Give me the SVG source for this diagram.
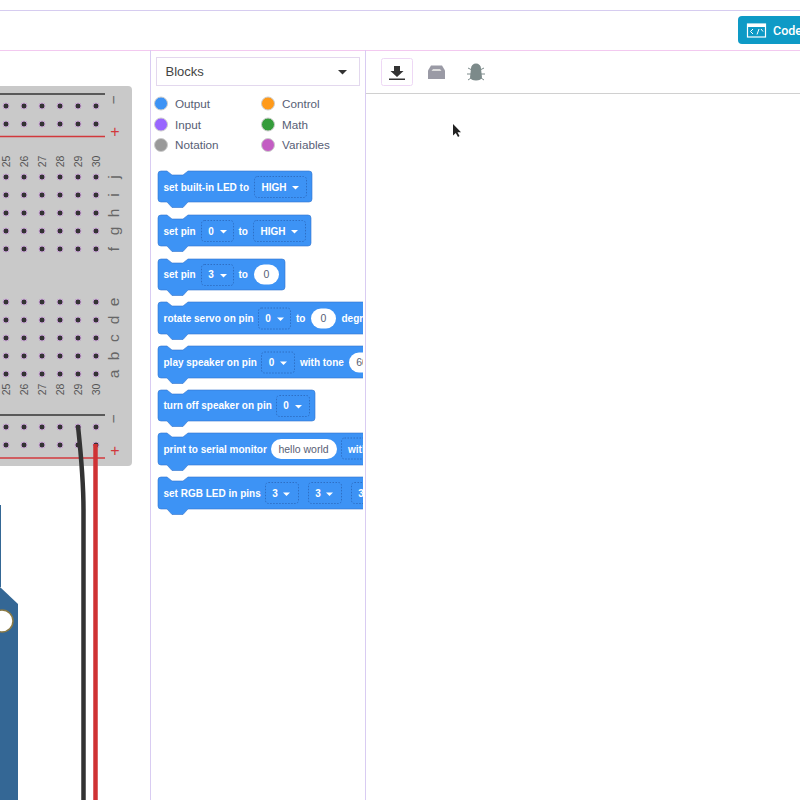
<svg xmlns="http://www.w3.org/2000/svg" width="800" height="800" viewBox="0 0 800 800">
<style>
text{font-family:"Liberation Sans",Arial,sans-serif}
.lbl{font-size:11.7px;fill:#575e75}
.bt{font-size:10px;font-weight:700;fill:#fff}
.blk{fill:#3d93f5;stroke:#3373cc;stroke-width:.6}
.dd{fill:#3d93f5;stroke:#2d6bc0;stroke-width:.9;stroke-dasharray:1.5 1.5}
.val{font-size:10px;font-weight:700;fill:#fff;text-anchor:middle}
.oval{fill:#fff}
.ot{font-size:10.5px;fill:#575e75;text-anchor:middle}
.num{font-size:10.5px;fill:#555;text-anchor:middle}
.let{font-size:15.5px;fill:#666;text-anchor:middle}
.hole{fill:#333;stroke:#c9a3d6;stroke-width:1}
.arr{fill:#fff}
</style>
<defs>
<g id="holes"><circle class="hole" cx="6" cy="0" r="3"/><circle class="hole" cx="24" cy="0" r="3"/><circle class="hole" cx="42" cy="0" r="3"/><circle class="hole" cx="60" cy="0" r="3"/><circle class="hole" cx="78" cy="0" r="3"/><circle class="hole" cx="96" cy="0" r="3"/></g>
<path id="caret" class="arr" d="M0 0h7l-3.500 3.500z"/>
<clipPath id="clipBlocks"><rect x="150" y="160" width="213" height="360"/></clipPath>
</defs>
<rect width="800" height="800" fill="#fff"/>
<g id="chrome" fill="none">
<path d="M0 10.500H800" stroke="#d6ccf0" stroke-width="1"/>
<path d="M0 50.500H800" stroke="#f3c9f0" stroke-width="1"/>
<path d="M150.500 50V800" stroke="#d9ccf2" stroke-width="1"/>
<path d="M365.500 50V800" stroke="#d9ccf2" stroke-width="1"/>
<path d="M366 93.500H800" stroke="#d0d0d0" stroke-width="1"/>
</g>
<g id="code-button">
<path d="M800 16H742q-4 0-4 4V40q0 4 4 4H800z" fill="#0e9ac6"/>
<rect x="747.500" y="24" width="18" height="13" fill="none" stroke="#fff" stroke-width="1.200"/>
<path d="M747 24h19v3h-19z" fill="#fff"/>
<path d="M753 29l-2.500 2.500 2.500 2.500M759 29l-2 5.500M761 29l2 2.500" fill="none" stroke="#fff" stroke-width="1"/>
<text x="773" y="34.500" font-size="12.500" font-weight="500" fill="#fff" style="font-family:Roboto,sans-serif">Code</text>
</g>
<g id="breadboard">
<path d="M0 86H128q4 0 4 4V462q0 4-4 4H0z" fill="#c9c9c9"/>
<path d="M0 94H105" stroke="#333" stroke-width="1.300"/>
<path d="M0 136.500H105" stroke="#d2383c" stroke-width="1.300"/>
<path d="M0 415H105" stroke="#333" stroke-width="1.300"/>
<path d="M0 458H105" stroke="#d2383c" stroke-width="1.300"/>
<use href="#holes" y="106"/><use href="#holes" y="124"/>
<use href="#holes" y="177"/><use href="#holes" y="195"/><use href="#holes" y="213"/><use href="#holes" y="231"/><use href="#holes" y="249"/>
<use href="#holes" y="302"/><use href="#holes" y="320"/><use href="#holes" y="338"/><use href="#holes" y="356"/><use href="#holes" y="374"/>
<use href="#holes" y="427"/><use href="#holes" y="445"/>
<text class="let" transform="translate(119,100) rotate(-90)">−</text>
<text x="115" y="137" font-size="16" fill="#d2383c" text-anchor="middle">+</text>
<text class="let" transform="translate(119,419) rotate(-90)">−</text>
<text x="115" y="456" font-size="16" fill="#d2383c" text-anchor="middle">+</text>
<g class="num">
<text transform="translate(10,161.500) rotate(-90)">25</text><text transform="translate(28,161.500) rotate(-90)">26</text><text transform="translate(46,161.500) rotate(-90)">27</text><text transform="translate(64,161.500) rotate(-90)">28</text><text transform="translate(82,161.500) rotate(-90)">29</text><text transform="translate(100,161.500) rotate(-90)">30</text>
<text transform="translate(10,389.500) rotate(-90)">25</text><text transform="translate(28,389.500) rotate(-90)">26</text><text transform="translate(46,389.500) rotate(-90)">27</text><text transform="translate(64,389.500) rotate(-90)">28</text><text transform="translate(82,389.500) rotate(-90)">29</text><text transform="translate(100,389.500) rotate(-90)">30</text>
</g>
<g class="let">
<text transform="translate(119,177) rotate(-90)">j</text><text transform="translate(119,195) rotate(-90)">i</text><text transform="translate(119,213) rotate(-90)">h</text><text transform="translate(119,231) rotate(-90)">g</text><text transform="translate(119,249) rotate(-90)">f</text>
<text transform="translate(119,302) rotate(-90)">e</text><text transform="translate(119,320) rotate(-90)">d</text><text transform="translate(119,338) rotate(-90)">c</text><text transform="translate(119,356) rotate(-90)">b</text><text transform="translate(119,374) rotate(-90)">a</text>
</g>
</g>
<g id="board">
<path d="M0 587L18 604V800H0z" fill="#346795"/>
<path d="M0 505H1V587H0z" fill="#346795"/>
<circle cx="2" cy="621" r="11" fill="#fff" stroke="#8a7a45" stroke-width="1.500"/>
</g>
<g id="connectors" fill="none" stroke-width="4.500">
<path d="M78 426C80 445 83.500 480 83.500 510V800" stroke="#333"/>
<path d="M95.500 444V800" stroke="#cf3234"/>
</g>
<g id="blocks-dropdown">
<rect x="156.500" y="57.500" width="203" height="28" fill="#fff" stroke="#e3d8ee"/>
<text x="165.500" y="76" font-size="13" fill="#444">Blocks</text>
<path d="M338 70h9l-4.500 4.500z" fill="#333"/>
</g>
<g id="toolbar">
<rect x="381.500" y="58.500" width="31" height="27" rx="2" fill="#fff" stroke="#eed8f5"/>
<path d="M394 66h6v5h3.500l-6.500 6-6.500-6H394z" fill="#333"/><path d="M389 78.500h16v1.500h-16z" fill="#333"/>
<path d="M431 65.500h11l3 5v8.500h-17v-8.500z" fill="#9a9aa5"/><path d="M433 69h7l1.500 2h-10z" fill="#ddd"/>
<path d="M471 68.500a5 5 0 0 1 10 0l1 9q-1 3-6 3t-6-3z" fill="#7c8a8a"/>
<path d="M468 68l4 2M484 68l-4 2M467 74h4M485 74h-4M468 80l3-2M484 80l-3-2M473 65l1 2M479 65l-1 2" stroke="#7c8a8a" stroke-width="1"/>
<path d="M453 124v11.500l2.800-2.600 2.200 4 1.500-.8-2-3.800h3.500z" fill="#222"/>
</g>
<g id="categories">
<g id="cat-output"><circle cx="161" cy="103.500" r="6.500" fill="#3d93f5" stroke="#ccc"/><text class="lbl" x="175" y="108">Output</text></g>
<g id="cat-input"><circle cx="161" cy="124.500" r="6.500" fill="#9966ff" stroke="#ccc"/><text class="lbl" x="175" y="129">Input</text></g>
<g id="cat-notation"><circle cx="161" cy="145" r="6.500" fill="#999" stroke="#ccc"/><text class="lbl" x="175" y="149">Notation</text></g>
<g id="cat-control"><circle cx="268" cy="103.500" r="6.500" fill="#ff9a1a" stroke="#ccc"/><text class="lbl" x="282" y="108">Control</text></g>
<g id="cat-math"><circle cx="268" cy="124.500" r="6.500" fill="#359c3b" stroke="#ccc"/><text class="lbl" x="282" y="129">Math</text></g>
<g id="cat-variables"><circle cx="268" cy="145" r="6.500" fill="#c35cc3" stroke="#ccc"/><text class="lbl" x="282" y="149">Variables</text></g>
</g>
<g id="blocks" clip-path="url(#clipBlocks)">
<g id="b1">
<path class="blk" d="M158 174q0-3 3-3h6l5 4h11l5-4h121q3 0 3 3v25q0 3-3 3H188l-5 5.500h-11l-5-5.500h-6q-3 0-3-3z"/>
<text class="bt" x="163.500" y="190.500">set built-in LED to</text>
<rect class="dd" x="254.500" y="176.500" width="52" height="21" rx="3"/>
<text class="val" x="274" y="190.500">HIGH</text><use href="#caret" x="292" y="186"/>
</g>
<g id="b2">
<path class="blk" d="M158 218q0-3 3-3h6l5 4h11l5-4h120q3 0 3 3v25q0 3-3 3H188l-5 5.500h-11l-5-5.500h-6q-3 0-3-3z"/>
<text class="bt" x="163.500" y="234.500">set pin</text>
<rect class="dd" x="201.500" y="220.500" width="32" height="21" rx="3"/>
<text class="val" x="211" y="234.500">0</text><use href="#caret" x="220" y="230"/>
<text class="bt" x="238.500" y="234.500">to</text>
<rect class="dd" x="253.500" y="220.500" width="52" height="21" rx="3"/>
<text class="val" x="273" y="234.500">HIGH</text><use href="#caret" x="291" y="230"/>
</g>
<g id="b3">
<path class="blk" d="M158 262q0-3 3-3h6l5 4h11l5-4h94q3 0 3 3v25q0 3-3 3H188l-5 5.500h-11l-5-5.500h-6q-3 0-3-3z"/>
<text class="bt" x="163.500" y="278">set pin</text>
<rect class="dd" x="201.500" y="264.500" width="32" height="21" rx="3"/>
<text class="val" x="211" y="278">3</text><use href="#caret" x="220" y="274"/>
<text class="bt" x="238.500" y="278">to</text>
<rect class="oval" x="254" y="264.500" width="25" height="20" rx="10"/>
<text class="ot" x="266.500" y="278">0</text>
</g>
<g id="b4">
<path class="blk" d="M158 305q0-3 3-3h6l5 4h11l5-4h190v32H188l-5 5.500h-11l-5-5.500h-6q-3 0-3-3z"/>
<text class="bt" x="163.500" y="321.500">rotate servo on pin</text>
<rect class="dd" x="258.500" y="308" width="32" height="21" rx="3"/>
<text class="val" x="268" y="321.500">0</text><use href="#caret" x="277" y="317.500"/>
<text class="bt" x="296" y="321.500">to</text>
<rect class="oval" x="311" y="308.500" width="25" height="20" rx="10"/>
<text class="ot" x="323.500" y="321.500">0</text>
<text class="bt" x="341.500" y="321.500">degrees</text>
</g>
<g id="b5">
<path class="blk" d="M158 349q0-3 3-3h6l5 4h11l5-4h190v32H188l-5 5.500h-11l-5-5.500h-6q-3 0-3-3z"/>
<text class="bt" x="163.500" y="365.500">play speaker on pin</text>
<rect class="dd" x="261.500" y="352" width="33" height="21" rx="3"/>
<text class="val" x="271.500" y="365.500">0</text><use href="#caret" x="280" y="361.500"/>
<text class="bt" x="300" y="365.500">with tone</text>
<rect class="oval" x="349" y="352.500" width="40" height="20" rx="10"/>
<text class="ot" x="362" y="365.500">60</text>
</g>
<g id="b6">
<path class="blk" d="M158 393q0-3 3-3h6l5 4h11l5-4h124q3 0 3 3v25q0 3-3 3H188l-5 5.500h-11l-5-5.500h-6q-3 0-3-3z"/>
<text class="bt" x="163.500" y="409">turn off speaker on pin</text>
<rect class="dd" x="276.500" y="395.500" width="33" height="21" rx="3"/>
<text class="val" x="286" y="409">0</text><use href="#caret" x="295" y="405"/>
</g>
<g id="b7">
<path class="blk" d="M158 436q0-3 3-3h6l5 4h11l5-4h190v32H188l-5 5.500h-11l-5-5.500h-6q-3 0-3-3z"/>
<text class="bt" x="163.500" y="453">print to serial monitor</text>
<rect class="oval" x="271" y="439" width="66" height="20" rx="10"/>
<text class="ot" x="303.500" y="453">hello world</text>
<rect class="dd" x="341.500" y="438" width="40" height="21" rx="3"/>
<text class="val" x="358" y="453">with</text>
</g>
<g id="b8">
<path class="blk" d="M158 480q0-3 3-3h6l5 4h11l5-4h190v32H188l-5 5.500h-11l-5-5.500h-6q-3 0-3-3z"/>
<text class="bt" x="163.500" y="496.500">set RGB LED in pins</text>
<rect class="dd" x="265.500" y="482.500" width="33" height="21" rx="3"/>
<text class="val" x="275" y="496.500">3</text><use href="#caret" x="283" y="492.500"/>
<rect class="dd" x="308.500" y="482.500" width="33" height="21" rx="3"/>
<text class="val" x="318" y="496.500">3</text><use href="#caret" x="326" y="492.500"/>
<rect class="dd" x="351.500" y="482.500" width="33" height="21" rx="3"/>
<text class="val" x="361" y="496.500">3</text>
</g>
</g>
</svg>
